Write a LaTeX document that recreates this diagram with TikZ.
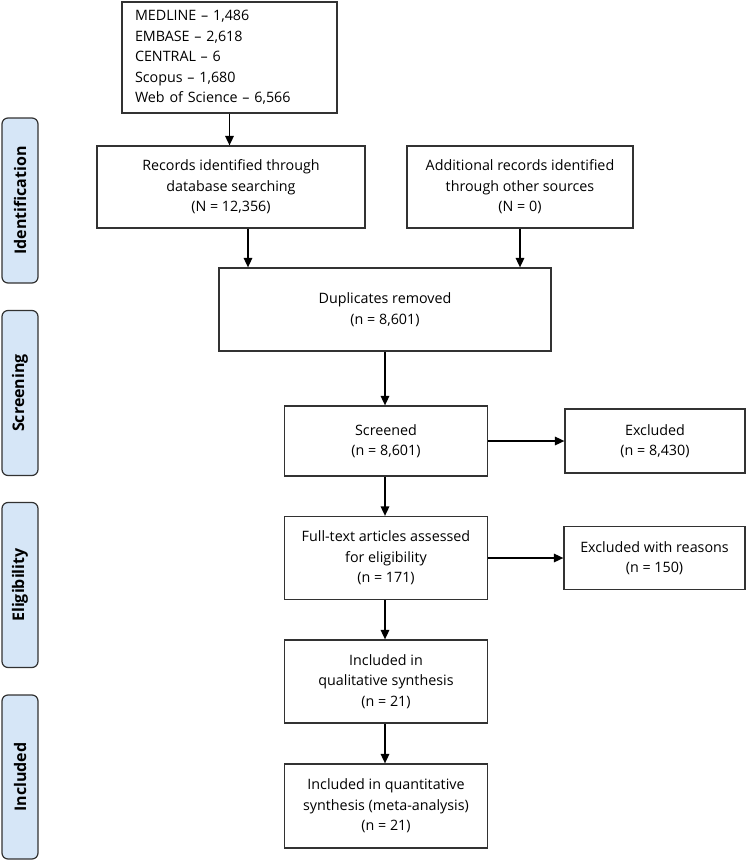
\documentclass[tikz,border=0pt]{standalone}
\usepackage{fontspec}
\setmainfont{Open Sans}
\usetikzlibrary{arrows.meta}
\definecolor{sidefill}{RGB}{214,230,247}
\definecolor{boxline}{RGB}{50,50,50}
\begin{document}
\begin{tikzpicture}[x=1pt,y=-1pt,
  box/.style={draw=boxline, line width=1.2pt, align=center, inner sep=0pt,
    font=\fontsize{14.3}{20.5}\selectfont},
  side/.style={draw=boxline, fill=sidefill, rounded corners=6pt, line width=1.2pt,
    minimum width=36pt, minimum height=165pt, inner sep=0pt},
  sidetext/.style={rotate=90, font=\bfseries\fontsize{16}{18}\selectfont, inner sep=0pt},
  arr/.style={-{Triangle[length=9.5pt,width=8.5pt]}, line width=1.6pt}]
\useasboundingbox (0,0) rectangle (747,862);

% side labels
\node[side] (sid1) at (20,200.5) {};
\node[sidetext] (lab1) at (sid1.center) {Identification};
\node[side] (sid2) at (20,393) {};
\node[sidetext] (lab2) at (sid2.center) {Screening};
\node[side] (sid3) at (20,585) {};
\node[sidetext] (lab3) at (sid3.center) {Eligibility};
\node[side, minimum height=164pt] (sid4) at (20,777) {};
\node[sidetext] (lab4) at (sid4.center) {Included};

% boxes
\node[box, align=left, text width=189pt, inner xsep=13pt, minimum height=111pt] (top) at (229.5,57.5)
  {MEDLINE – 1,486\\EMBASE – 2,618\\CENTRAL – 6\\Scopus – 1,680\\Web of Science – 6,566};
\node[box, minimum width=268pt, minimum height=82pt] (rec) at (231,187)
  {Records identified through\\database searching\\(N = 12,356)};
\node[box, minimum width=226pt, minimum height=82pt] (add) at (520,187)
  {Additional records identified\\through other sources\\(N = 0)};
\node[box, minimum width=332pt, minimum height=83pt] (dup) at (385,309.5)
  {Duplicates removed\\(n = 8,601)};
\node[box, minimum width=203pt, minimum height=70pt] (scr) at (386,441)
  {Screened\\(n = 8,601)};
\node[box, minimum width=180pt, minimum height=64pt] (exc) at (655,441)
  {Excluded\\(n = 8,430)};
\node[box, minimum width=203pt, minimum height=83pt] (full) at (386,558)
  {Full-text articles assessed\\for eligibility\\(n = 171)};
\node[box, minimum width=181pt, minimum height=63pt] (exr) at (654.5,558)
  {Excluded with reasons\\(n = 150)};
\node[box, minimum width=203pt, minimum height=83pt] (qual) at (386,681.5)
  {Included in\\qualitative synthesis\\(n = 21)};
\node[box, minimum width=203pt, minimum height=84pt] (quan) at (386,806)
  {Included in quantitative\\synthesis (meta-analysis)\\(n = 21)};

% arrows
\draw[arr] (top.south) -- (top.south |- rec.north);
\draw[arr] ([xshift=17pt]rec.south) -- ([xshift=17pt]rec.south |- dup.north);
\draw[arr] (add.south) -- (add.south |- dup.north);
\draw[arr] (dup.south) -- (dup.south |- scr.north);
\draw[arr] (scr.east) -- (exc.west);
\draw[arr] (scr.south -| dup.south) -- (dup.south |- full.north);
\draw[arr] (full.east) -- (full.east -| exr.west);
\draw[arr] (full.south -| dup.south) -- (dup.south |- qual.north);
\draw[arr] (qual.south -| dup.south) -- (dup.south |- quan.north);
\end{tikzpicture}
\end{document}
